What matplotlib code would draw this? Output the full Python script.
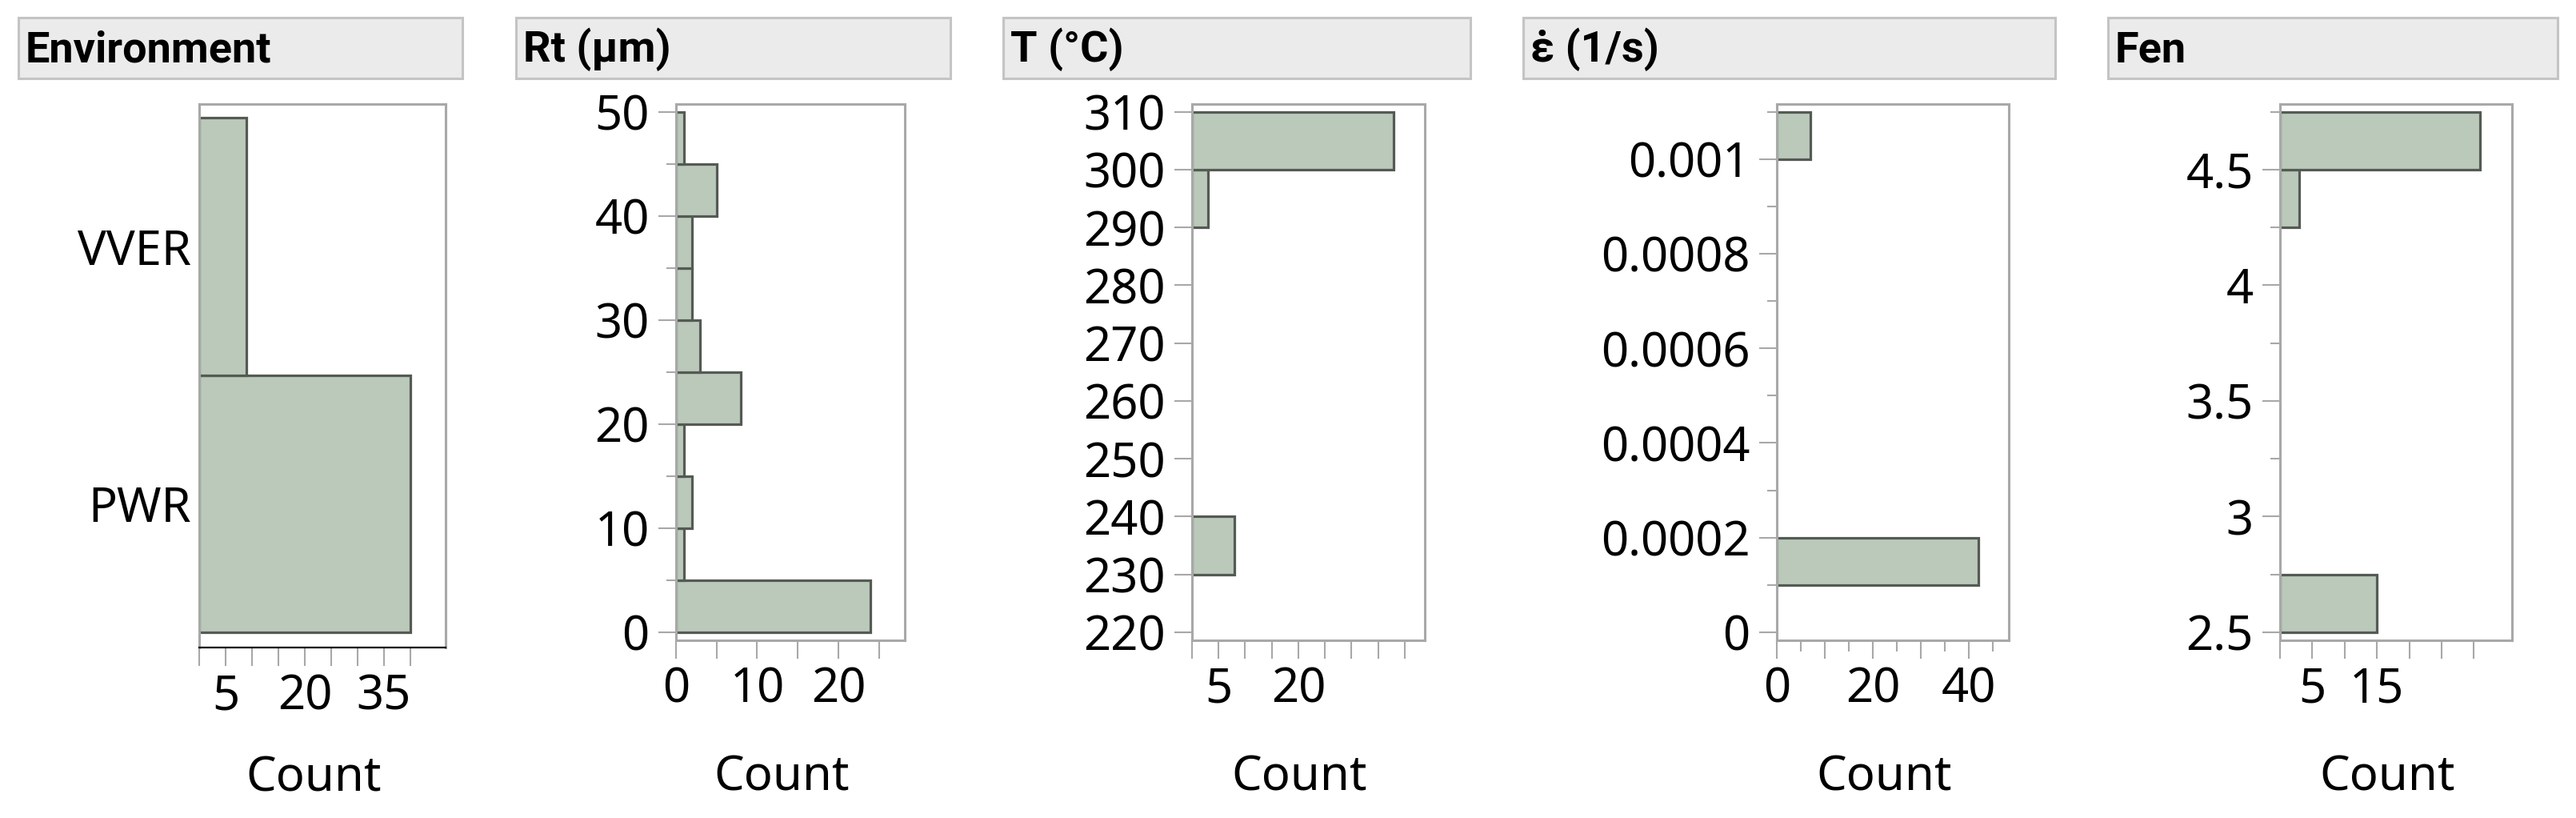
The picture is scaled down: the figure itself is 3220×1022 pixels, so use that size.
import matplotlib
matplotlib.use("Agg")
import matplotlib.pyplot as plt
from matplotlib.patches import Rectangle

plt.rcParams['font.family'] = ['Noto Sans', 'DejaVu Sans']

# ----------------------------
# Data (counts)
# ----------------------------

env_categories = ["PWR", "VVER"]
env_counts = [40, 9]

rt_edges = [0, 5, 10, 15, 20, 25, 30, 35, 40, 45, 50]
rt_counts = [24, 1, 2, 1, 8, 3, 2, 2, 5, 1]

temp_edges = [220, 230, 240, 250, 260, 270, 280, 290, 300, 310]
temp_counts = [0, 8, 0, 0, 0, 0, 0, 3, 38]

rate_edges = [0, 0.0001, 0.0002, 0.0003, 0.0004, 0.0005, 0.0006,
              0.0007, 0.0008, 0.0009, 0.001, 0.0011]
rate_counts = [0, 42, 0, 0, 0, 0, 0, 0, 0, 0, 7]

fen_edges = [2.5, 2.75, 3.0, 3.25, 3.5, 3.75, 4.0, 4.25, 4.5, 4.75]
fen_counts = [15, 0, 0, 0, 0, 0, 0, 3, 31]

titles = ["Environment", "Rt (µm)", "T (°C)", "ε\u0307 (1/s)", "Fen"]

env_xticks = [0, 5, 10, 15, 20, 25, 30, 35, 40]
env_xlabels = ["", "5", "", "", "20", "", "", "35", ""]

rt_xticks = [0, 5, 10, 15, 20, 25]
rt_xlabels = ["0", "", "10", "", "20", ""]
rt_yticks = [0, 10, 20, 30, 40, 50]
rt_ylabels = ["0", "10", "20", "30", "40", "50"]
rt_yminor = [5, 15, 25, 35, 45]

temp_xticks = [0, 5, 10, 15, 20, 25, 30, 35, 40]
temp_xlabels = ["", "5", "", "", "20", "", "", "", ""]
temp_yticks = [220, 230, 240, 250, 260, 270, 280, 290, 300, 310]
temp_ylabels = [str(t) for t in temp_yticks]
temp_yminor = []

rate_xticks = [0, 10, 20, 30, 40]
rate_xlabels = ["0", "", "20", "", "40"]
rate_xminor = [5, 15, 25, 35, 45]
rate_yticks = [0, 0.0002, 0.0004, 0.0006, 0.0008, 0.001]
rate_ylabels = ["0", "0.0002", "0.0004", "0.0006", "0.0008", "0.001"]
rate_yminor = [0.0001, 0.0003, 0.0005, 0.0007, 0.0009, 0.0011]

fen_xticks = [0, 5, 10, 15, 20, 25, 30]
fen_xlabels = ["", "5", "", "15", "", "", ""]
fen_yticks = [2.5, 3, 3.5, 4, 4.5]
fen_ylabels = ["2.5", "3", "3.5", "4", "4.5"]
fen_yminor = [2.75, 3.25, 3.75, 4.25, 4.75]

# ----------------------------
# Styling
# ----------------------------

W, H, DPI = 3220, 1022, 100
BAR_FILL = "#bac9ba"
BAR_EDGE = "#545a54"
FRAME = "#a8a8a8"
HEADER_FILL = "#ebebeb"
HEADER_EDGE = "#c4c4c4"
FS = 43

fig = plt.figure(figsize=(W / DPI, H / DPI), dpi=DPI)
fig.patch.set_facecolor("white")


def px_axes(x0, x1, y0, y1):
    return fig.add_axes([x0 / W, 1 - y1 / H, (x1 - x0) / W, (y1 - y0) / H])


def header(x0, x1, title):
    y0, y1 = 22, 98
    fig.patches.append(Rectangle((x0 / W, 1 - y1 / H), (x1 - x0) / W, (y1 - y0) / H,
                                 transform=fig.transFigure, facecolor=HEADER_FILL,
                                 edgecolor=HEADER_EDGE, linewidth=2.2))
    fig.text((x0 + 9) / W, 1 - 77 / H, title, fontsize=39, fontweight="bold",
             ha="left", va="baseline", family=['Roboto', 'DejaVu Sans'])


def style(ax, width_px):
    for s in ax.spines.values():
        s.set_color(FRAME)
        s.set_linewidth(2.2)
    ax.tick_params(axis="both", which="both", colors=FRAME, labelcolor="black",
                   labelsize=FS, width=1.5)
    ax.tick_params(axis="x", which="major", length=16.5, pad=6)
    ax.tick_params(axis="x", which="minor", length=10)
    ax.tick_params(axis="y", which="major", length=16, pad=8)
    ax.tick_params(axis="y", which="minor", length=8.5)
    ax.set_xlabel("Count", fontsize=FS)
    ax.xaxis.label.set_va("center")
    ax.xaxis.set_label_coords(0.5 - 11 / width_px, -(972 - 800) / 670)


def hist_panel(x0, x1, edges, counts, xmax, xticks, xlabels, yticks, ylabels,
               yminor, xminor=()):
    ax = px_axes(x0, x1, 130, 800)
    lo, hi = edges[0], edges[-1]
    starts = [a for a, c in zip(edges[:-1], counts) if c]
    heights = [b - a for a, b, c in zip(edges[:-1], edges[1:], counts) if c]
    widths = [c for c in counts if c]
    ax.barh(starts, widths, height=heights, align="edge", color=BAR_FILL,
            edgecolor=BAR_EDGE, linewidth=2.3)
    span = hi - lo
    ax.set_ylim(lo - span * 10 / 650, hi + span * 9.5 / 650)
    ax.set_xlim(0, xmax)
    ax.set_xticks(xticks, xlabels)
    ax.set_xticks(list(xminor), minor=True)
    ax.set_yticks(yticks, ylabels)
    ax.set_yticks(yminor, minor=True)
    style(ax, x1 - x0)
    return ax


# ----------------------------
# Panels
# ----------------------------

header(23, 578, titles[0])
header(645, 1188, titles[1])
header(1254, 1838, titles[2])
header(1904, 2569, titles[3])
header(2635, 3197, titles[4])

# Environment (categorical)
ax = px_axes(249, 557, 130, 809)
ax.barh(env_categories, env_counts, height=1.0, color=BAR_FILL,
        edgecolor=BAR_EDGE, linewidth=2.3)
ax.set_ylim(-0.559, 1.553)
ax.set_xlim(0, 46.7)
ax.set_xticks(env_xticks, env_xlabels)
style(ax, 557 - 249)
ax.spines["bottom"].set_color("black")
ax.spines["bottom"].set_linewidth(1.6)
ax.tick_params(axis="y", length=0, pad=7)
ax.xaxis.set_label_coords(0.5 - 11 / 308, -(972 - 809) / 679)

hist_panel(845, 1131, rt_edges, rt_counts, 28.2, rt_xticks, rt_xlabels,
           rt_yticks, rt_ylabels, rt_yminor)
hist_panel(1490, 1781, temp_edges, temp_counts, 43.8, temp_xticks, temp_xlabels,
           temp_yticks, temp_ylabels, temp_yminor)
hist_panel(2221, 2511, rate_edges, rate_counts, 48.3, rate_xticks, rate_xlabels,
           rate_yticks, rate_ylabels, rate_yminor, xminor=rate_xminor)
hist_panel(2850, 3140, fen_edges, fen_counts, 35.9, fen_xticks, fen_xlabels,
           fen_yticks, fen_ylabels, fen_yminor)

fig.savefig("out.png", dpi=DPI)
